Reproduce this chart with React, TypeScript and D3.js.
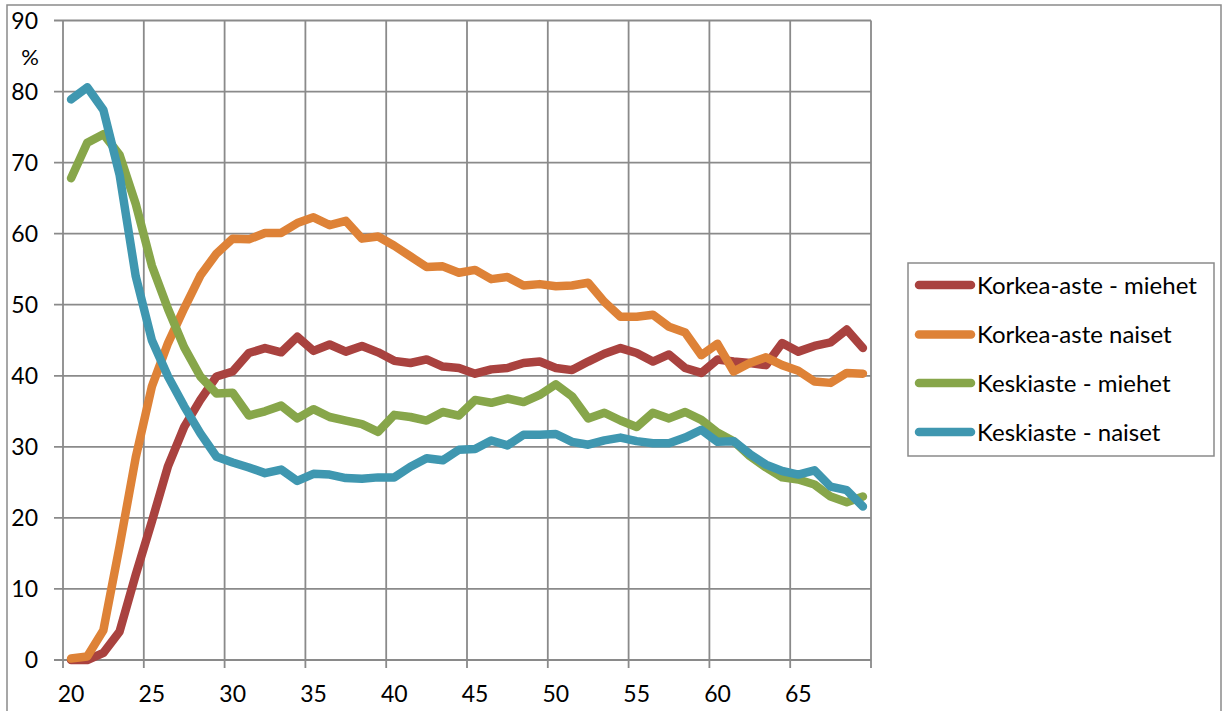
import React from "react";
import * as d3 from "d3";

const ages: number[] = d3.range(20, 70);

const korkeaMiehet: number[] = [
  0, 0, 1.0, 4.0, 12, 19.5, 27.3, 32.8, 36.6, 39.9,
  40.6, 43.2, 43.9, 43.3, 45.5, 43.5, 44.4, 43.4, 44.2, 43.3,
  42.1, 41.8, 42.3, 41.3, 41.1, 40.3, 40.9, 41.1, 41.8, 42.0,
  41.1, 40.8, 42.0, 43.1, 43.9, 43.2, 42.0, 43.0, 41.1, 40.4,
  42.3, 42.0, 41.8, 41.5, 44.6, 43.4, 44.2, 44.7, 46.5, 43.9,
];
const korkeaNaiset: number[] = [
  0.2, 0.5, 4.2, 16, 28.5, 38.5, 44.6, 49.5, 54.1, 57.2,
  59.3, 59.2, 60.1, 60.1, 61.5, 62.3, 61.2, 61.8, 59.3, 59.6,
  58.3, 56.8, 55.3, 55.4, 54.5, 54.9, 53.6, 53.9, 52.7, 52.9,
  52.6, 52.7, 53.1, 50.4, 48.3, 48.3, 48.6, 46.9, 46.1, 42.9,
  44.5, 40.6, 41.8, 42.6, 41.5, 40.7, 39.2, 39.0, 40.4, 40.3,
];
const keskiMiehet: number[] = [
  67.8, 72.8, 74.0, 71.1, 64.2, 55.5, 49.4, 44.0, 39.9, 37.5,
  37.6, 34.4, 35.0, 35.8, 34.0, 35.3, 34.2, 33.7, 33.2, 32.1,
  34.5, 34.2, 33.7, 34.9, 34.4, 36.6, 36.2, 36.8, 36.3, 37.3,
  38.8, 37.1, 34.0, 34.8, 33.7, 32.8, 34.8, 34.0, 34.9, 33.8,
  32.0, 30.8, 28.7, 27.1, 25.7, 25.4, 24.7, 23.0, 22.2, 23.0,
];
const keskiNaiset: number[] = [
  78.9, 80.6, 77.4, 68.3, 54.0, 45.0, 39.9, 35.7, 31.9, 28.6,
  27.8, 27.1, 26.3, 26.8, 25.2, 26.2, 26.1, 25.6, 25.5, 25.7,
  25.7, 27.2, 28.4, 28.1, 29.6, 29.7, 30.9, 30.2, 31.7, 31.7,
  31.8, 30.7, 30.3, 30.9, 31.3, 30.8, 30.5, 30.5, 31.3, 32.4,
  30.7, 30.8, 29.0, 27.5, 26.6, 26.1, 26.7, 24.4, 23.9, 21.6,
];

const seriesNames: string[] = [
  "Korkea-aste - miehet",
  "Korkea-aste naiset",
  "Keskiaste - miehet",
  "Keskiaste - naiset",
];
const seriesColors: string[] = ["#A9423F", "#DE8237", "#87A64A", "#3F97B0"];
const seriesValues: number[][] = [korkeaMiehet, korkeaNaiset, keskiMiehet, keskiNaiset];

const yTicks: number[] = [0, 10, 20, 30, 40, 50, 60, 70, 80, 90];
const xLabelAges: number[] = [20, 25, 30, 35, 40, 45, 50, 55, 60, 65];

const W = 1225;
const H = 711;
const FONT = "Lato, 'Open Sans', sans-serif";
const GRID = "#8a8a8a";

export default function App() {
  const left = 63;
  const right = 871;
  const top = 20.5;
  const bottom = 660;

  const x = d3
    .scalePoint<number>()
    .domain(ages)
    .range([left, right])
    .padding(0.5);
  const step = x.step();
  const y = d3.scaleLinear().domain([0, 90]).range([bottom, top]);

  const line = d3
    .line<number>()
    .x((_, i) => x(ages[i]) as number)
    .y((d) => y(d));

  const vGrid = d3.range(0, ages.length + 1, 5).map((k) => left + k * step);

  const legendX = 908;
  const legendY = 263;
  const legendRows = [285, 334.5, 383, 432];

  return (
    <svg
      width={W}
      height={H}
      style={{ position: "absolute", left: 0, top: 0, background: "#fff" }}
      fontFamily={FONT}
    >
      <rect x={7} y={5} width={1214} height={720} fill="#fff" stroke={GRID} strokeWidth={1.5} />
      {yTicks.map((t) => (
        <line key={"h" + t} x1={54} x2={right} y1={y(t)} y2={y(t)} stroke={GRID} strokeWidth={1.8} />
      ))}
      {vGrid.map((gx, i) => (
        <line key={"v" + i} x1={gx} x2={gx} y1={top} y2={bottom + 8} stroke={GRID} strokeWidth={1.8} />
      ))}
      {yTicks.map((t) => (
        <text key={"yl" + t} x={38} y={y(t)} dy="0.36em" textAnchor="end" fontSize={23} fill="#000">
          {t}
        </text>
      ))}
      <text x={30} y={57} dy="0.36em" textAnchor="middle" fontSize={22} fill="#000">
        %
      </text>
      {xLabelAges.map((a) => (
        <text key={"xl" + a} x={x(a) as number} y={702} textAnchor="middle" fontSize={23} fill="#000">
          {a}
        </text>
      ))}
      {seriesValues.map((vals, i) => (
        <path
          key={"s" + i}
          d={line(vals) || ""}
          fill="none"
          stroke={seriesColors[i]}
          strokeWidth={8.5}
          strokeLinejoin="round"
          strokeLinecap="round"
        />
      ))}
      <rect x={legendX} y={legendY} width={306} height={193} fill="#fff" stroke={GRID} strokeWidth={1.5} />
      {seriesNames.map((name, i) => (
        <g key={"lg" + i}>
          <line
            x1={919}
            x2={971}
            y1={legendRows[i]}
            y2={legendRows[i]}
            stroke={seriesColors[i]}
            strokeWidth={8.5}
            strokeLinecap="round"
          />
          <text x={977} y={legendRows[i]} dy="0.36em" fontSize={24} fill="#000">
            {name}
          </text>
        </g>
      ))}
    </svg>
  );
}
